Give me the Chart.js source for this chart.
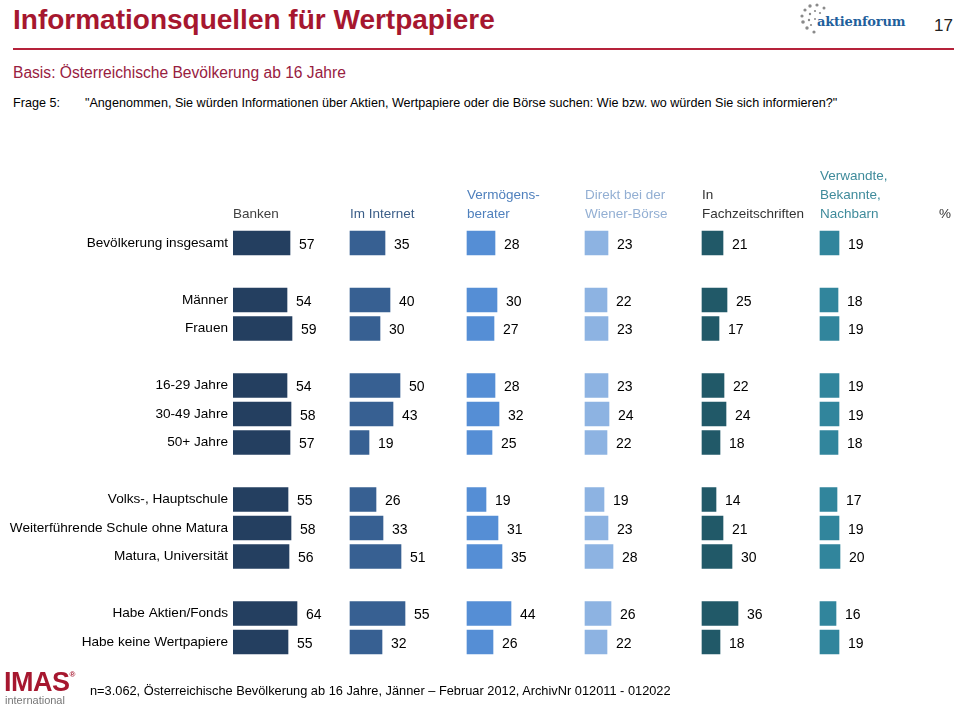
<!DOCTYPE html>
<html>
<head>
<meta charset="utf-8">
<script src="https://cdn.jsdelivr.net/npm/chart.js@4.4.0/dist/chart.umd.min.js"></script>
<style>
  body { margin: 0; background: #fff; font-family: "Liberation Sans", Arial, sans-serif; }
  #page { position: relative; width: 960px; height: 707px; overflow: hidden; }
  .abs { position: absolute; white-space: nowrap; }
  #title { left: 13px; top: 4px; font-size: 28px; font-weight: bold; color: #a6172f; }
  #rule { left: 13px; top: 48px; width: 941px; height: 2px; background: #b5223a; }
  #pagenr { left: 934px; top: 16px; font-size: 17px; color: #222; }
  #basis { left: 13px; top: 64px; font-size: 15.6px; color: #98203f; }
  #frage { left: 13px; top: 96px; font-size: 12.6px; color: #000; }
  #quest { left: 85px; top: 96px; font-size: 12.6px; color: #000; }
  #foot { left: 90px; top: 683px; font-size: 12.8px; color: #000; }
  #imas { left: 4px; top: 667px; font-size: 27px; font-weight: bold; color: #a6172f; letter-spacing: -0.5px; }
  #imas sup { font-size: 8px; color: #a6172f; vertical-align: 14px; }
  #intl { left: 5px; top: 694px; font-size: 11px; color: #777; }
  #af { left: 817px; top: 14px; font-family: "DejaVu Serif", serif; font-size: 13px; font-weight: bold; color: #1f5f9c; letter-spacing: -0.2px; }
  #chart { position: absolute; left: 0; top: 150px; }
</style>
</head>
<body>
<div id="page">
  <div class="abs" id="title">Informationsquellen für Wertpapiere</div>
  <svg class="abs" style="left:794px;top:2px" width="40" height="34">
    <g fill="#8a8a8a">
      <circle cx="9" cy="20" r="1.8"/><circle cx="8" cy="14" r="1.6"/><circle cx="11" cy="8" r="1.6"/>
      <circle cx="16" cy="4" r="1.7"/><circle cx="23" cy="3" r="1.6"/><circle cx="30" cy="6" r="1.5"/>
      <circle cx="13" cy="26" r="1.7"/><circle cx="20" cy="30" r="1.6"/><circle cx="16" cy="12" r="1.2"/>
      <circle cx="21" cy="9" r="1.1"/><circle cx="26" cy="11" r="1.1"/><circle cx="15" cy="18" r="1.2"/>
      <circle cx="17" cy="23" r="1.1"/><circle cx="21" cy="17" r="1.0"/>
    </g>
  </svg>
  <div class="abs" id="af">aktienforum</div>
  <div class="abs" id="pagenr">17</div>
  <div class="abs" id="rule"></div>
  <div class="abs" id="basis">Basis: Österreichische Bevölkerung ab 16 Jahre</div>
  <div class="abs" id="frage">Frage 5:</div>
  <div class="abs" id="quest">"Angenommen, Sie würden Informationen über Aktien, Wertpapiere oder die Börse suchen: Wie bzw. wo würden Sie sich informieren?"</div>
  <canvas id="chart" width="960" height="520"></canvas>
  <div class="abs" id="imas">IMAS<sup>®</sup></div>
  <div class="abs" id="intl">international</div>
  <div class="abs" id="foot">n=3.062, Österreichische Bevölkerung ab 16 Jahre, Jänner – Februar 2012, ArchivNr 012011 - 012022</div>
</div>

<script>
// rows (empty strings are the gaps between groups)
const rowLabels = ['Bevölkerung insgesamt', '', 'Männer', 'Frauen', '', '16-29 Jahre', '30-49 Jahre', '50+ Jahre', '',
  'Volks-, Hauptschule', 'Weiterführende Schule ohne Matura', 'Matura, Universität', '', 'Habe Aktien/Fonds', 'Habe keine Wertpapiere']

const sources = [['Banken'], ['Im Internet'], ['Vermögens-', 'berater'], ['Direkt bei der', 'Wiener-Börse'],
  ['In', 'Fachzeitschriften'], ['Verwandte,', 'Bekannte,', 'Nachbarn']]

// values per source, in row order (null = gap)
const banken =       [57, null, 54, 59, null, 54, 58, 57, null, 55, 58, 56, null, 64, 55]
const internet =     [35, null, 40, 30, null, 50, 43, 19, null, 26, 33, 51, null, 55, 32]
const berater =      [28, null, 30, 27, null, 28, 32, 25, null, 19, 31, 35, null, 44, 26]
const boerse =       [23, null, 22, 23, null, 23, 24, 22, null, 19, 23, 28, null, 26, 22]
const zeitschriften =[21, null, 25, 17, null, 22, 24, 18, null, 14, 21, 30, null, 36, 18]
const verwandte =    [19, null, 18, 19, null, 19, 19, 18, null, 17, 19, 20, null, 16, 19]

const seriesValues = [banken, internet, berater, boerse, zeitschriften, verwandte]

// where each source panel starts on the shared value axis
const panelStart = [0, 117, 234, 352, 469, 587]

const barColors = ['#243f60', '#376092', '#558ed5', '#8db3e2', '#215968', '#31859c']
const headColors = ['#404040', '#3b5e88', '#4f80bd', '#93afd3', '#333333', '#3f8b9b']

const datasets = seriesValues.map((vals, i) => ({
  label: sources[i].join(' '),
  data: vals.map(v => v == null ? null : [panelStart[i], panelStart[i] + v]),
  backgroundColor: barColors[i],
  borderWidth: 0,
  barThickness: 24,
  grouped: false
}))

const textFont = '"Liberation Sans", Arial, sans-serif'

const labelPlugin = {
  id: 'labels',
  afterDatasetsDraw(chart) {
    const ctx = chart.ctx
    const xs = chart.scales.x
    const top = chart.chartArea.top
    ctx.save()
    // value labels
    ctx.font = '14px ' + textFont
    ctx.fillStyle = '#000'
    ctx.textAlign = 'left'
    ctx.textBaseline = 'middle'
    chart.data.datasets.forEach((ds, i) => {
      const meta = chart.getDatasetMeta(i)
      meta.data.forEach((bar, j) => {
        const v = seriesValues[i][j]
        if (v == null) return
        ctx.fillText(String(v), bar.x + 9, bar.y + 2)
      })
    })
    // column headers
    ctx.font = '13.5px ' + textFont
    sources.forEach((lines, i) => {
      ctx.fillStyle = headColors[i]
      const x = xs.getPixelForValue(panelStart[i])
      lines.forEach((ln, k) => {
        const y = top - 14 - (lines.length - 1 - k) * 19
        ctx.fillText(ln, x, y)
      })
    })
    ctx.fillStyle = '#333'
    ctx.fillText('%', 939, top - 14)
    ctx.restore()
  }
}

new Chart(document.getElementById('chart'), {
  type: 'bar',
  data: { labels: rowLabels, datasets: datasets },
  options: {
    indexAxis: 'y',
    responsive: false,
    animation: false,
    layout: { padding: { top: 78.75, bottom: 13.75, left: 0, right: 0 } },
    plugins: { legend: { display: false }, tooltip: { enabled: false } },
    scales: {
      x: { display: false, min: 0, max: 727 },
      y: {
        grid: { display: false, drawTicks: false },
        border: { display: false },
        ticks: { color: '#000', font: { size: 13.6, family: textFont }, padding: 5, autoSkip: false },
        afterFit(scale) { scale.width = 233 }
      }
    }
  },
  plugins: [labelPlugin]
})
</script>
</body>
</html>
